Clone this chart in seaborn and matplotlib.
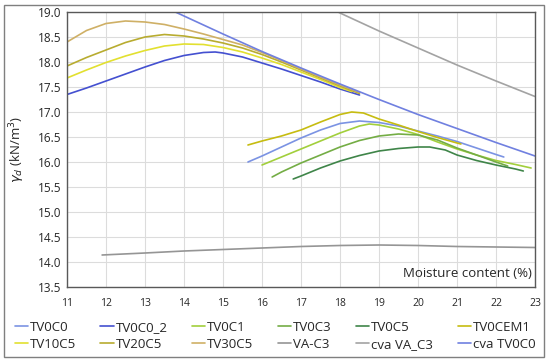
import matplotlib
matplotlib.use("Agg")
import matplotlib.pyplot as plt
import seaborn as sns
import pandas as pd

# moisture content (%) and dry unit weight (kN/m3) for each curve
tv0c0_x = [15.64, 16.0, 16.5, 17.0, 17.5, 18.0, 18.5, 19.0, 19.5, 20.0, 20.5, 21.0, 21.5, 22.0, 22.2]
tv0c0_y = [16.00, 16.12, 16.30, 16.48, 16.64, 16.77, 16.82, 16.79, 16.72, 16.62, 16.52, 16.41, 16.28, 16.15, 16.10]

tv0c0_2_x = [11.0, 11.5, 12.0, 12.5, 13.0, 13.5, 14.0, 14.5, 14.8, 15.0, 15.5, 16.0, 16.5, 17.0, 17.5, 18.0, 18.5]
tv0c0_2_y = [17.35, 17.48, 17.62, 17.76, 17.90, 18.03, 18.13, 18.19, 18.20, 18.18, 18.10, 17.98, 17.86, 17.73, 17.60, 17.46, 17.34]

tv0c1_x = [16.0, 16.5, 17.0, 17.5, 18.0, 18.5, 18.75, 19.0, 19.5, 20.0, 20.5, 21.0, 21.5, 22.0, 22.5, 22.9]
tv0c1_y = [15.94, 16.10, 16.26, 16.42, 16.58, 16.72, 16.76, 16.74, 16.66, 16.55, 16.40, 16.26, 16.14, 16.03, 15.95, 15.88]

tv0c3_x = [16.26, 16.5, 17.0, 17.5, 18.0, 18.5, 19.0, 19.5, 20.0, 20.5, 21.0, 21.5, 22.0, 22.3]
tv0c3_y = [15.70, 15.80, 15.98, 16.14, 16.30, 16.43, 16.52, 16.56, 16.54, 16.44, 16.28, 16.14, 16.00, 15.92]

tv0c5_x = [16.8, 17.0, 17.5, 18.0, 18.5, 19.0, 19.5, 20.0, 20.3, 20.7, 21.0, 21.5, 22.0, 22.5, 22.7]
tv0c5_y = [15.66, 15.72, 15.88, 16.02, 16.13, 16.22, 16.27, 16.30, 16.30, 16.24, 16.14, 16.03, 15.94, 15.86, 15.82]

tv0cem1_x = [15.64, 16.0, 16.5, 17.0, 17.5, 18.0, 18.3, 18.6, 19.0, 19.5, 20.0, 20.5, 21.0, 21.1]
tv0cem1_y = [16.34, 16.42, 16.52, 16.64, 16.80, 16.95, 17.00, 16.98, 16.86, 16.74, 16.61, 16.49, 16.38, 16.36]

tv10c5_x = [11.0, 11.5, 12.0, 12.5, 13.0, 13.5, 14.0, 14.5, 15.0, 15.5, 16.0, 16.5, 17.0, 17.5, 18.0, 18.3]
tv10c5_y = [17.68, 17.84, 17.99, 18.12, 18.23, 18.32, 18.36, 18.35, 18.29, 18.20, 18.08, 17.95, 17.80, 17.65, 17.49, 17.41]

tv20c5_x = [11.0, 11.5, 12.0, 12.5, 13.0, 13.5, 14.0, 14.5, 15.0, 15.5, 16.0, 16.5, 17.0, 17.5, 18.0, 18.5]
tv20c5_y = [17.92, 18.09, 18.24, 18.39, 18.50, 18.55, 18.52, 18.46, 18.38, 18.28, 18.15, 18.00, 17.84, 17.68, 17.52, 17.37]

tv30c5_x = [11.0, 11.5, 12.0, 12.5, 13.0, 13.5, 14.0, 14.5, 15.0, 15.5, 16.0, 16.5, 17.0, 17.5, 18.0, 18.5]
tv30c5_y = [18.40, 18.63, 18.77, 18.82, 18.80, 18.75, 18.66, 18.56, 18.45, 18.34, 18.19, 18.03, 17.86, 17.70, 17.54, 17.39]

va_c3_x = [11.9, 13.0, 14.0, 15.0, 16.0, 17.0, 18.0, 19.0, 20.0, 21.0, 22.0, 23.0]
va_c3_y = [14.14, 14.18, 14.22, 14.25, 14.28, 14.31, 14.33, 14.34, 14.33, 14.31, 14.30, 14.29]

cva_va_c3_x = [17.8, 18.0, 19.0, 20.0, 21.0, 22.0, 23.0]
cva_va_c3_y = [19.06, 18.98, 18.62, 18.28, 17.94, 17.62, 17.31]

cva_tv0c0_x = [13.5, 14.0, 15.0, 16.0, 17.0, 18.0, 19.0, 20.0, 21.0, 22.0, 23.0]
cva_tv0c0_y = [19.10, 18.92, 18.56, 18.21, 17.88, 17.56, 17.25, 16.95, 16.67, 16.39, 16.12]

names = ['TV0C0', 'TV0C0_2', 'TV0C1', 'TV0C3', 'TV0C5', 'TV0CEM1',
         'TV10C5', 'TV20C5', 'TV30C5', 'VA-C3', 'cva VA_C3', 'cva TV0C0']
xs = [tv0c0_x, tv0c0_2_x, tv0c1_x, tv0c3_x, tv0c5_x, tv0cem1_x,
      tv10c5_x, tv20c5_x, tv30c5_x, va_c3_x, cva_va_c3_x, cva_tv0c0_x]
ys = [tv0c0_y, tv0c0_2_y, tv0c1_y, tv0c3_y, tv0c5_y, tv0cem1_y,
      tv10c5_y, tv20c5_y, tv30c5_y, va_c3_y, cva_va_c3_y, cva_tv0c0_y]

rows = []
for n, x, y in zip(names, xs, ys):
    for a, b in zip(x, y):
        rows.append({'series': n, 'w': a, 'gd': b})
df = pd.DataFrame(rows)

palette = {'TV0C0': '#7b93e3', 'TV0C0_2': '#4450d0', 'TV0C1': '#a2cf3c',
           'TV0C3': '#74ad45', 'TV0C5': '#3f8549', 'TV0CEM1': '#c6bc10',
           'TV10C5': '#e2e030', 'TV20C5': '#b8ac30', 'TV30C5': '#cfb066',
           'VA-C3': '#959595', 'cva VA_C3': '#a3a3a3', 'cva TV0C0': '#7080e0'}

sns.set_style("whitegrid")
plt.rcParams['font.family'] = ['Open Sans', 'DejaVu Sans']

fig = plt.figure(figsize=(5.5, 3.62), dpi=100)
ax = fig.add_axes([67/550, 1 - 287/362, (535-67)/550, (287-12)/362])

sns.lineplot(data=df, x='w', y='gd', hue='series', hue_order=names,
             palette=palette, estimator=None, sort=True, linewidth=1.2, ax=ax)

ax.set_xlim(11, 23)
ax.set_ylim(13.5, 19.0)
ax.set_xticks(range(11, 24))
ax.set_yticks([13.5 + 0.5*i for i in range(12)])
ax.set_yticklabels([f'{13.5 + 0.5*i:.1f}' for i in range(12)], fontsize=8.5)
ax.set_xticklabels([str(i) for i in range(11, 24)], fontsize=7.5)
ax.tick_params(axis='both', length=0, pad=4)
ax.tick_params(axis='x', pad=8)
ax.grid(color='#dcdcdc', linewidth=0.8)
for s in ax.spines.values():
    s.set_color('#595959')
    s.set_linewidth(1.0)
ax.set_xlabel('')
ax.set_ylabel(r'$\gamma_d$ (kN/m$^3$)', fontsize=9.5)
ax.yaxis.set_label_coords(-0.085, 0.5)
ax.text(0.993, 0.025, 'Moisture content (%)', transform=ax.transAxes,
        ha='right', va='bottom', fontsize=9.5)

# legend filled row by row, 6 per row
handles, labels = ax.get_legend_handles_labels()
ax.get_legend().remove()
order = [i + 6*r for i in range(6) for r in range(2)]
fig.legend([handles[i] for i in order], [labels[i] for i in order], ncol=6, loc='center',
           bbox_to_anchor=(0.5, 1 - 336/362), frameon=False, fontsize=9.5,
           handlelength=1.0, handletextpad=0.15, columnspacing=1.85,
           labelspacing=0.3)

fig.add_artist(plt.Rectangle((4/550, 5/362), 540/550, 352/362, transform=fig.transFigure,
                             fill=False, edgecolor='#7f7f7f', linewidth=1.0))

fig.savefig('out.png', dpi=100)
